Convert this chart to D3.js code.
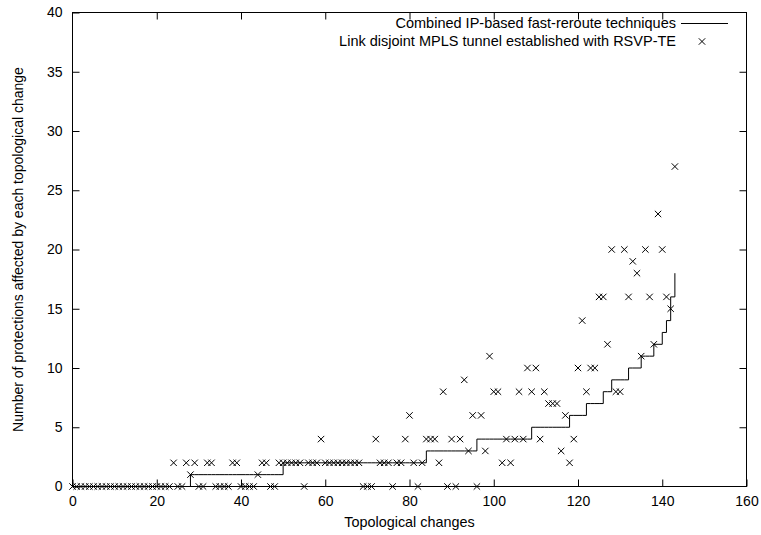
<!DOCTYPE html>
<html>
<head>
<meta charset="utf-8">
<script src="https://cdn.jsdelivr.net/npm/d3@7"></script>
<style>
  html, body { margin: 0; padding: 0; background: #fff; }
  svg text { font-family: "Liberation Sans", Arial, Helvetica, sans-serif; font-size: 14px; fill: #000; }
</style>
</head>
<body>
<svg id="chart" width="761" height="535"></svg>
<script>
// ---- data ----
const xTicks = [0, 20, 40, 60, 80, 100, 120, 140, 160];
const yTicks = [0, 5, 10, 15, 20, 25, 30, 35, 40];
const xLabel = "Topological changes";
const yLabel = "Number of protections affected by each topological change";
const seriesNames = ["Combined IP-based fast-reroute techniques", "Link disjoint MPLS tunnel established with RSVP-TE"];

// Combined IP-based fast-reroute techniques (step line), one value per topological change 0..143
const ipValues = [
  0,0,0,0,0,0,0,0,0,0,
  0,0,0,0,0,0,0,0,0,0,
  0,0,0,0,0,0,0,0,1,1,
  1,1,1,1,1,1,1,1,1,1,
  1,1,1,1,1,1,1,1,1,1,
  2,2,2,2,2,2,2,2,2,2,
  2,2,2,2,2,2,2,2,2,2,
  2,2,2,2,2,2,2,2,2,2,
  2,2,2,2,3,3,3,3,3,3,
  3,3,3,3,3,3,4,4,4,4,
  4,4,4,4,4,4,4,4,4,5,
  5,5,5,5,5,5,5,5,6,6,
  6,6,7,7,7,7,8,8,9,9,
  9,9,10,10,10,11,11,11,12,12,
  13,14,16,18
];

// Link disjoint MPLS tunnel established with RSVP-TE (points), one value per topological change 0..143
const mplsValues = [
  0,0,0,0,0,0,0,0,0,0,
  0,0,0,0,0,0,0,0,0,0,
  0,0,0,0,2,0,0,2,1,2,
  0,0,2,2,0,0,0,0,2,2,
  0,0,0,0,1,2,2,0,0,2,
  2,2,2,2,2,0,2,2,2,4,
  2,2,2,2,2,2,2,2,2,0,
  0,0,4,2,2,2,0,2,2,4,
  6,2,0,2,4,4,4,2,8,0,
  4,0,4,9,3,6,0,6,3,11,
  8,8,2,4,2,4,8,4,10,8,
  10,4,8,7,7,7,3,6,2,4,
  10,14,8,10,10,16,16,12,20,8,
  8,20,16,19,18,11,20,16,12,23,
  20,16,15,27
];

// ---- drawing ----
const svg = d3.select("#chart");
const pLeft = 72.5, pRight = 746.5, pTop = 12.5, pBottom = 486.5;
const x = d3.scaleLinear().domain([0, 160]).range([pLeft, pRight]);
const y = d3.scaleLinear().domain([0, 40]).range([pBottom, pTop]);
const tickLen = 7;

const g = svg.append("g");

const xAxisB = d3.axisBottom(x).tickValues(xTicks).tickSizeInner(-tickLen).tickSizeOuter(0).tickPadding(10).tickFormat(d3.format("d"));
const xAxisT = d3.axisTop(x).tickValues(xTicks.slice(1, -1)).tickSizeInner(-tickLen).tickSizeOuter(0).tickFormat("");
const yAxisL = d3.axisLeft(y).tickValues(yTicks).tickSizeInner(-tickLen).tickSizeOuter(0).tickPadding(10).tickFormat(d3.format("d"));
const yAxisR = d3.axisRight(y).tickValues(yTicks.slice(1, -1)).tickSizeInner(-tickLen).tickSizeOuter(0).tickFormat("");

function styleAxis(sel) {
  sel.select(".domain").remove();
  sel.selectAll("line").attr("stroke", "#000").attr("stroke-width", 1);
  sel.selectAll("text").attr("fill", "#000").style("font-size", "14px").attr("font-family", null);
}
g.append("g").attr("transform", `translate(0,${pBottom})`).call(xAxisB).call(styleAxis);
g.append("g").attr("transform", `translate(0,${pTop})`).call(xAxisT).call(styleAxis);
g.append("g").attr("transform", `translate(${pLeft},0)`).call(yAxisL).call(styleAxis);
g.append("g").attr("transform", `translate(${pRight},0)`).call(yAxisR).call(styleAxis);

g.append("rect").attr("x", pLeft).attr("y", pTop).attr("width", pRight - pLeft).attr("height", pBottom - pTop)
  .attr("fill", "none").attr("stroke", "#000").attr("stroke-width", 1);

// step line
const lineData = ipValues.map((v, i) => [i, v]);
const line = d3.line().x(d => x(d[0])).y(d => y(d[1])).curve(d3.curveStepAfter);
g.append("path").datum(lineData).attr("d", line)
  .attr("fill", "none").attr("stroke", "#000").attr("stroke-width", 1);

// cross markers
const cs = 3.2;
function crossPath(cx, cy) {
  return `M${cx - cs},${cy - cs}L${cx + cs},${cy + cs}M${cx - cs},${cy + cs}L${cx + cs},${cy - cs}`;
}
g.append("g").selectAll("path").data(mplsValues.map((v, i) => [i, v])).join("path")
  .attr("d", d => crossPath(x(d[0]), y(d[1])))
  .attr("fill", "none").attr("stroke", "#000").attr("stroke-width", 1);

// axis labels
svg.append("text").attr("x", (pLeft + pRight) / 2).attr("y", 527).attr("text-anchor", "middle").style("font-size", "14.4px").text(xLabel);
svg.append("text").attr("transform", `translate(23,${(pTop + pBottom) / 2}) rotate(-90)`).attr("text-anchor", "middle").text(yLabel);

// legend
const legX = 676;
svg.append("text").attr("x", legX).attr("y", 28).attr("text-anchor", "end").style("font-size", "14.5px").text(seriesNames[0]);
svg.append("line").attr("x1", 681).attr("x2", 728).attr("y1", 23.5).attr("y2", 23.5).attr("stroke", "#000").attr("stroke-width", 1);
svg.append("text").attr("x", legX).attr("y", 46).attr("text-anchor", "end").style("font-size", "14.5px").text(seriesNames[1]);
svg.append("path").attr("d", crossPath(702, 41.5)).attr("fill", "none").attr("stroke", "#000").attr("stroke-width", 1);
</script>
</body>
</html>
